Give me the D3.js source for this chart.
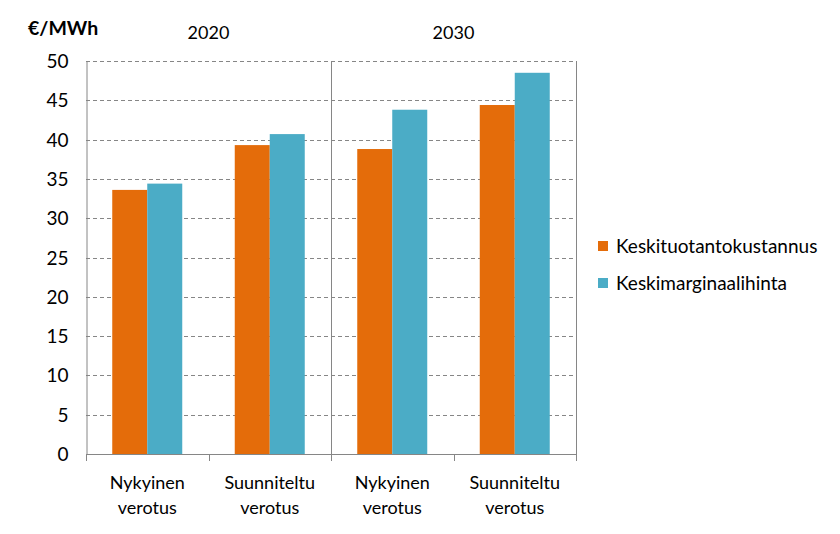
<!DOCTYPE html>
<html>
<head>
<style>
  body{
    margin: 0;
    background: white;
    font-family: Lato, 'Open Sans', sans-serif;
  }
</style>
</head>
<body>
<svg id='svgVis'></svg>

<script src="https://cdn.jsdelivr.net/npm/d3@7/dist/d3.min.js"></script>
<script>

var years = ["2020", "2030"];
var scenarios = ["Nykyinen verotus", "Suunniteltu verotus"];
var seriesNames = ["Keskituotantokustannus", "Keskimarginaalihinta"];
var productionCost = [33.6, 39.3, 38.8, 44.4];
var marginalPrice = [34.4, 40.7, 43.8, 48.5];
var yTicks = [0, 5, 10, 15, 20, 25, 30, 35, 40, 45, 50];
var colors = ["#E46C0A", "#4BACC6"];

var width = 840, height = 534;
var plotLeft = 86, plotRight = 576, plotTop = 61, plotBottom = 454;

var svg = d3.select("#svgVis")
    .attr("width", width)
    .attr("height", height);

// one slot per year/scenario pair
var cats = [];
years.forEach(function(y) {
  scenarios.forEach(function(s) { cats.push(y + "|" + s); });
});

var data = cats.map(function(c, i) {
  return {cat: c, values: [productionCost[i], marginalPrice[i]]};
});

var x = d3.scaleBand().domain(cats).range([plotLeft, plotRight]).padding(0);
var xSub = d3.scaleBand().domain([0, 1]).range([0, x.bandwidth()]).paddingOuter(0.75).paddingInner(0);
var y = d3.scaleLinear().domain([0, 50]).range([plotBottom, plotTop]);

// gridlines
svg.append("g")
  .selectAll("line")
  .data(yTicks.filter(function(d) { return d > 0; }))
  .enter().append("line")
  .attr("x1", plotLeft).attr("x2", plotRight)
  .attr("y1", function(d) { return Math.round(y(d)) + 0.5; })
  .attr("y2", function(d) { return Math.round(y(d)) + 0.5; })
  .style("stroke", "#868686")
  .style("stroke-width", 1)
  .style("stroke-dasharray", "4,3");

// y axis
var yAxis = svg.append("g")
  .attr("transform", "translate(" + (plotLeft + 0.5) + ",0.5)")
  .call(d3.axisLeft(y).tickValues(yTicks).tickSize(0).tickPadding(18));
yAxis.select(".domain").style("stroke", "#868686");
yAxis.selectAll("text")
  .style("font-family", "Lato, sans-serif")
  .style("font-size", "19px")
  .style("fill", "#000");

// bars
var groups = svg.append("g")
  .selectAll("g")
  .data(data)
  .enter().append("g")
  .attr("transform", function(d) { return "translate(" + x(d.cat) + ",0)"; });

groups.selectAll("rect")
  .data(function(d) { return d.values; })
  .enter().append("rect")
  .attr("x", function(d, i) { return xSub(i); })
  .attr("width", xSub.bandwidth())
  .attr("y", function(d) { return y(d); })
  .attr("height", function(d) { return y(0) - y(d); })
  .style("fill", function(d, i) { return colors[i]; });

// year divider and right border
svg.append("g")
  .selectAll("line")
  .data([x(cats[2]), plotRight])
  .enter().append("line")
  .attr("x1", function(d) { return Math.round(d) + 0.5; })
  .attr("x2", function(d) { return Math.round(d) + 0.5; })
  .attr("y1", plotTop).attr("y2", plotBottom)
  .style("stroke", "#868686");

// x axis
svg.append("line")
  .attr("x1", plotLeft).attr("x2", plotRight)
  .attr("y1", plotBottom + 0.5).attr("y2", plotBottom + 0.5)
  .style("stroke", "#868686");

var bounds = cats.map(function(c) { return x(c); }).concat([plotRight]);
svg.append("g")
  .selectAll("line")
  .data(bounds)
  .enter().append("line")
  .attr("x1", function(d) { return Math.round(d) + 0.5; })
  .attr("x2", function(d) { return Math.round(d) + 0.5; })
  .attr("y1", plotBottom).attr("y2", plotBottom + 7)
  .style("stroke", "#868686");

// category labels
var labels = svg.append("g")
  .selectAll("text")
  .data(cats)
  .enter().append("text")
  .attr("x", function(d) { return x(d) + x.bandwidth() / 2; })
  .attr("y", 489)
  .attr("text-anchor", "middle")
  .style("font-size", "18px")
  .style("fill", "#000");

labels.each(function(d) {
  var words = d.split("|")[1].split(" ");
  var t = d3.select(this);
  words.forEach(function(w, i) {
    t.append("tspan")
      .attr("x", t.attr("x"))
      .attr("dy", i === 0 ? 0 : 25)
      .text(w);
  });
});

// year labels
svg.append("g")
  .selectAll("text")
  .data(years)
  .enter().append("text")
  .attr("x", function(d, i) { return x(cats[i * 2 + 1]); })
  .attr("y", 39)
  .attr("text-anchor", "middle")
  .style("font-size", "18px")
  .style("fill", "#000")
  .text(function(d) { return d; });

// unit label
svg.append("text")
  .attr("x", 28)
  .attr("y", 35)
  .style("font-size", "19.5px")
  .style("font-weight", "bold")
  .style("fill", "#000")
  .text("€/MWh");

// legend
var legend = svg.append("g")
  .selectAll("g")
  .data(seriesNames)
  .enter().append("g")
  .attr("transform", function(d, i) { return "translate(598," + (241 + i * 37) + ")"; });

legend.append("rect")
  .attr("width", 10).attr("height", 10)
  .style("fill", function(d, i) { return colors[i]; });

legend.append("text")
  .attr("x", 18)
  .attr("y", 12)
  .style("font-size", "19px")
  .style("fill", "#000")
  .text(function(d) { return d; });

</script>
</body>
</html>
